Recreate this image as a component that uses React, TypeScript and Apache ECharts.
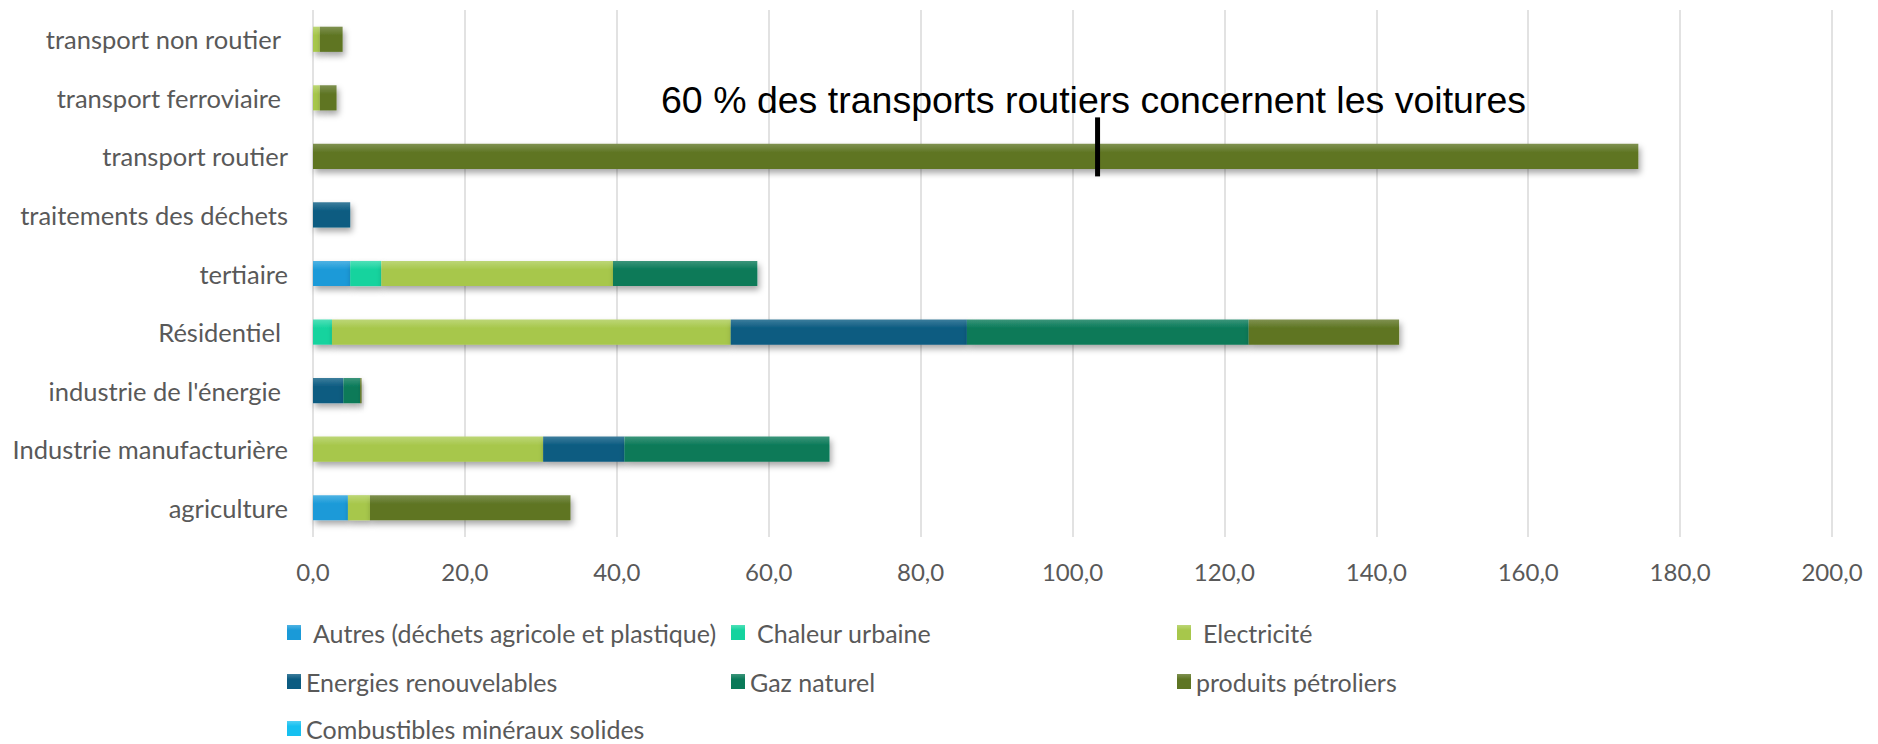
import React, { useEffect, useRef } from "react";
import * as echarts from "echarts";

const categories = [
  "agriculture",
  "Industrie manufacturière",
  "industrie de l'énergie",
  "Résidentiel",
  "tertiaire",
  "traitements des déchets",
  "transport routier",
  "transport ferroviaire",
  "transport non routier",
];
const paddedCategories = ["industrie de l'énergie", "Résidentiel", "transport ferroviaire", "transport non routier"];

const autres = [4.6, 0, 0, 0, 4.9, 0, 0, 0, 0];
const chaleur = [0, 0, 0, 2.5, 4.1, 0, 0, 0, 0];
const electricite = [2.9, 30.3, 0, 52.5, 30.5, 0, 0, 0.9, 0.9];
const renouvelables = [0, 10.7, 4.0, 31.1, 0, 4.9, 0, 0, 0];
const gaz = [0, 27.0, 2.2, 37.1, 19.0, 0, 0, 0, 0];
const petroliers = [26.4, 0, 0.2, 19.8, 0, 0, 174.5, 2.2, 3.0];
const combustibles = [0, 0, 0, 0, 0, 0, 0, 0, 0];

const seriesNames = [
  "Autres (déchets agricole et plastique)",
  "Chaleur urbaine",
  "Electricité",
  "Energies renouvelables",
  "Gaz naturel",
  "produits pétroliers",
  "Combustibles minéraux solides",
];
const seriesValues = [autres, chaleur, electricite, renouvelables, gaz, petroliers, combustibles];
const seriesColors = ["#1a9ad8", "#14d39e", "#a7c74b", "#0b5b81", "#0a7a59", "#5e7523", "#16c0f0"];
const seriesLight = ["#4fb3e3", "#4fe0b8", "#bcd676", "#3c7d9c", "#3b957a", "#7f9150", "#4fd0f4"];

const xTicks = { min: 0, max: 200, interval: 20 };
const annotationText = "60 % des transports routiers concernent les voitures";
const annotationValue = 103.3;
const annotationCategory = "transport routier";

// legend slots: [left, top] per series (same order as seriesNames)
const legendSlots = [
  [287, 620],
  [731, 620],
  [1177, 620],
  [287, 669],
  [731, 669],
  [1177, 669],
  [287, 716],
];
const paddedLegend = [seriesNames[0], seriesNames[1], seriesNames[2]];

const FONT = "Lato, 'Open Sans', sans-serif";
const GREY = "#595959";

export default function App() {
  const ref = useRef<HTMLDivElement>(null);
  useEffect(() => {
    if (!ref.current) return;
    const chart = echarts.init(ref.current, null, { renderer: "svg" });
    const series = seriesNames.map((name, i) => ({
      name,
      type: "bar",
      stack: "total",
      barWidth: "43%",
      data: seriesValues[i],
      itemStyle: {
        color: new echarts.graphic.LinearGradient(0, 0, 0, 1, [
          { offset: 0, color: seriesLight[i] },
          { offset: 0.35, color: seriesColors[i] },
          { offset: 1, color: seriesColors[i] },
        ]),
        shadowBlur: 6,
        shadowColor: "rgba(0,0,0,0.35)",
        shadowOffsetX: 2,
        shadowOffsetY: 4,
      },
      emphasis: { disabled: true },
    }));
    const legends = seriesNames.map((name, i) => ({
      orient: "horizontal",
      left: legendSlots[i][0],
      top: legendSlots[i][1],
      padding: 0,
      data: [name],
      itemWidth: 14,
      itemHeight: 15,
      icon: "rect",
      selectedMode: false,
      formatter: (n: string) => (paddedLegend.includes(n) ? `{p|${n}}` : n),
      textStyle: {
        fontFamily: FONT,
        fontSize: 25,
        color: GREY,
        lineHeight: 24,
        rich: { p: { padding: [0, 0, 0, 7], fontFamily: FONT, fontSize: 25, color: GREY, lineHeight: 24 } },
      },
    }));
    chart.setOption({
      animation: false,
      backgroundColor: "#ffffff",
      grid: { left: 313, right: 46, top: 10, bottom: 207, containLabel: false },
      legend: legends,
      xAxis: {
        type: "value",
        min: xTicks.min,
        max: xTicks.max,
        interval: xTicks.interval,
        axisLine: { show: false },
        axisTick: { show: false },
        splitLine: { lineStyle: { color: "#d9d9d9", width: 1.5 } },
        axisLabel: {
          margin: 22,
          fontFamily: FONT,
          fontSize: 24,
          color: GREY,
          formatter: (v: number) => v.toFixed(1).replace(".", ","),
        },
      },
      yAxis: {
        type: "category",
        data: categories,
        axisLine: { show: false },
        axisTick: { show: false },
        axisLabel: {
          margin: 25,
          fontFamily: FONT,
          fontSize: 25.5,
          color: GREY,
          formatter: (v: string) => (paddedCategories.includes(v) ? `{p|${v}}` : v),
          rich: { p: { padding: [0, 7, 0, 0], fontFamily: FONT, fontSize: 25.5, color: GREY } },
        },
      },
      series,
    });
    const pt = chart.convertToPixel({ gridIndex: 0 }, [annotationValue, annotationCategory]) as number[];
    chart.setOption({
      graphic: [
        {
          type: "line",
          shape: { x1: pt[0], y1: pt[1] - 39, x2: pt[0], y2: pt[1] + 20 },
          style: { stroke: "#000000", lineWidth: 5 },
          z: 100,
        },
        {
          type: "text",
          x: 661,
          y: 100,
          style: {
            text: annotationText,
            fontFamily: "'Liberation Sans', Arial, sans-serif",
            fontSize: 37.5,
            fill: "#000000",
            align: "left",
            verticalAlign: "middle",
          },
          z: 100,
        },
      ],
    });
    return () => chart.dispose();
  }, []);
  return (
    <div
      ref={ref}
      style={{ position: "fixed", left: 0, top: 0, width: 1878, height: 744, background: "#fff" }}
    />
  );
}
